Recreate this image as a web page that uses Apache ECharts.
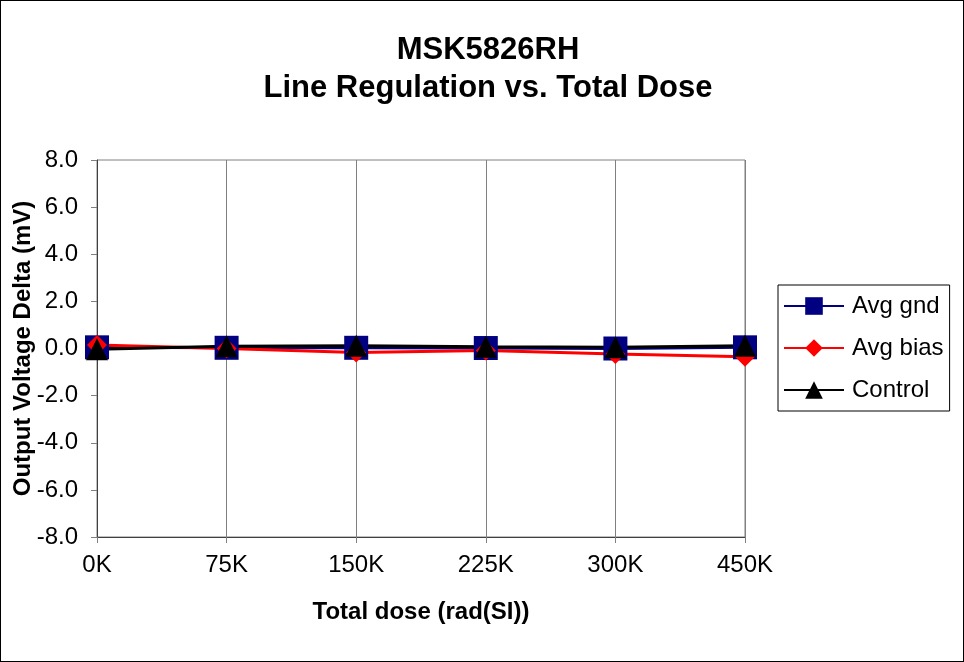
<!DOCTYPE html>
<html>
<head>
<meta charset="utf-8">
<script src="https://cdn.jsdelivr.net/npm/echarts@6/dist/echarts.min.js"></script>
<style>
  html, body { margin: 0; padding: 0; background: #fff; }
  #chart { width: 964px; height: 662px; box-sizing: border-box; border: 1px solid #000; }
</style>
</head>
<body>
<div id="chart"></div>
<script>
// data
var doses = ['0K', '75K', '150K', '225K', '300K', '450K'];
var avgGnd = [0.05, 0.03, 0.03, 0.02, 0.0, 0.05];
var avgBias = [0.15, 0.0, -0.17, -0.09, -0.23, -0.35];
var control = [-0.03, 0.1, 0.12, 0.07, 0.05, 0.12];

var font = 'Liberation Sans, Arial, sans-serif';
var chart = echarts.init(document.getElementById('chart'));

chart.setOption({
    animation: false,
    title: {
        text: 'MSK5826RH\nLine Regulation vs. Total Dose',
        left: 482,
        top: 25,
        textAlign: 'center',
        textStyle: { fontFamily: font, fontSize: 31, fontWeight: 'bold', color: '#000', lineHeight: 38 }
    },
    legend: {
        orient: 'vertical',
        left: 777,
        top: 284,
        width: 172,
        padding: [9, 6, 9, 5],
        itemGap: 18,
        itemWidth: 60,
        itemHeight: 22,
        borderColor: '#000',
        borderWidth: 1,
        borderRadius: 0,
        textStyle: { fontFamily: font, fontSize: 24, color: '#000', padding: [0, 0, 0, 3] },
        data: ['Avg gnd', 'Avg bias', 'Control']
    },
    grid: {
        left: 96, right: 218, top: 159, bottom: 124,
        outerBoundsMode: 'none', containLabel: false,
        show: true, borderColor: '#808080', borderWidth: 1
    },
    xAxis: {
        type: 'category',
        data: doses,
        boundaryGap: false,
        name: 'Total dose (rad(SI))',
        nameLocation: 'middle',
        nameGap: 63,
        nameMoveOverlap: false,
        nameTextStyle: { fontFamily: font, fontSize: 24, fontWeight: 'bold', color: '#000' },
        axisLine: { onZero: false, lineStyle: { color: '#404040', width: 1 } },
        axisTick: { show: true, length: 6, lineStyle: { color: '#808080' } },
        axisLabel: { fontFamily: font, fontSize: 24, color: '#000', margin: 16 },
        splitLine: { show: true, lineStyle: { color: '#808080', width: 1 } }
    },
    yAxis: {
        type: 'value',
        min: -8,
        max: 8,
        interval: 2,
        name: 'Output Voltage Delta (mV)',
        nameLocation: 'middle',
        nameGap: 62,
        nameMoveOverlap: false,
        nameTextStyle: { fontFamily: font, fontSize: 24, fontWeight: 'bold', color: '#000' },
        axisLine: { show: true, lineStyle: { color: '#404040', width: 1 } },
        axisTick: { show: true, length: 6, lineStyle: { color: '#808080' } },
        axisLabel: {
            fontFamily: font, fontSize: 24, color: '#000', margin: 19,
            formatter: function (v) { return v.toFixed(1); }
        },
        splitLine: { show: false }
    },
    series: [
        {
            name: 'Avg gnd',
            type: 'line',
            data: avgGnd,
            symbol: 'rect',
            symbolSize: 24,
            itemStyle: { color: '#000080' },
            lineStyle: { color: '#000080', width: 3 }
        },
        {
            name: 'Avg bias',
            type: 'line',
            data: avgBias,
            symbol: 'diamond',
            symbolSize: 20,
            itemStyle: { color: '#ff0000' },
            lineStyle: { color: '#ff0000', width: 3 }
        },
        {
            name: 'Control',
            type: 'line',
            data: control,
            symbol: 'triangle',
            symbolSize: 22,
            itemStyle: { color: '#000' },
            lineStyle: { color: '#000', width: 3 }
        }
    ]
});
</script>
</body>
</html>
